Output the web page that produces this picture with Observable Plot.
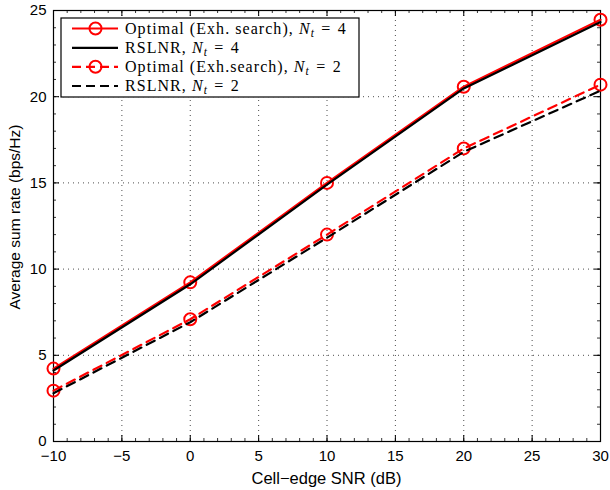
<!DOCTYPE html>
<html>
<head>
<meta charset="utf-8">
<script src="https://cdn.jsdelivr.net/npm/d3@7"></script>
<script src="https://cdn.jsdelivr.net/npm/@observablehq/plot@0.6"></script>
<style>
  html, body { margin: 0; padding: 0; background: #fff; }
  svg { display: block; }
</style>
</head>
<body>
<div id="chart"></div>
<script>
// ---- data ----
const snr = [-10, 0, 10, 20, 30];
const optNt4 = [4.23, 9.23, 15.0, 20.58, 24.46];
const rslnrNt4 = [4.12, 9.12, 14.9, 20.48, 24.33];
const optNt2 = [2.95, 7.09, 12.0, 17.0, 20.7];
const rslnrNt2 = [2.8, 6.92, 11.82, 16.8, 20.35];
const xTicks = [-10, -5, 0, 5, 10, 15, 20, 25, 30];
const yTicks = [0, 5, 10, 15, 20, 25];
const xMinor = d3.range(-10, 31, 1);
const yMinor = d3.range(0, 26, 1);
const xLabel = "Cell−edge SNR (dB)";
const yLabel = "Average sum rate (bps/Hz)";
const legendLabels = [
  ["Optimal (Exh. search), ", "4"],
  ["RSLNR, ", "4"],
  ["Optimal (Exh.search), ", "2"],
  ["RSLNR, ", "2"]
];

const series = [
  {name: "opt4", vals: optNt4, color: "#ff0000", dash: null, marker: true},
  {name: "rs4", vals: rslnrNt4, color: "#000000", dash: null, marker: false},
  {name: "opt2", vals: optNt2, color: "#ff0000", dash: "9,6", marker: true},
  {name: "rs2", vals: rslnrNt2, color: "#000000", dash: "9,6", marker: false}
];

const W = 610, H = 490;
const mL = 53, mR = 10, mT = 10, mB = 49;
const iW = W - mL - mR, iH = H - mT - mB;

const marks = [
  Plot.gridX(xTicks, {stroke: "#000", strokeOpacity: 0.7, strokeDasharray: "1,4"}),
  Plot.gridY(yTicks, {stroke: "#000", strokeOpacity: 0.7, strokeDasharray: "1,4"}),
  // minor ticks
  Plot.tickX(xMinor, {x: d => d, insetTop: iH - 3, stroke: "#000", strokeWidth: 0.8}),
  Plot.tickX(xMinor, {x: d => d, insetBottom: iH - 3, stroke: "#000", strokeWidth: 0.8}),
  Plot.tickY(yMinor, {y: d => d, insetRight: iW - 3, stroke: "#000", strokeWidth: 0.8}),
  Plot.tickY(yMinor, {y: d => d, insetLeft: iW - 3, stroke: "#000", strokeWidth: 0.8}),
  // major ticks
  Plot.tickX(xTicks, {x: d => d, insetTop: iH - 6, stroke: "#000"}),
  Plot.tickX(xTicks, {x: d => d, insetBottom: iH - 6, stroke: "#000"}),
  Plot.tickY(yTicks, {y: d => d, insetRight: iW - 6, stroke: "#000"}),
  Plot.tickY(yTicks, {y: d => d, insetLeft: iW - 6, stroke: "#000"}),
  Plot.frame({stroke: "#000", strokeWidth: 1.2})
];

for (const s of series) {
  const data = snr.map((x, i) => ({x, y: s.vals[i]}));
  marks.push(Plot.line(data, {x: "x", y: "y", stroke: s.color, strokeWidth: 2.2,
    strokeDasharray: s.dash, strokeLinejoin: "round"}));
  if (s.marker) {
    marks.push(Plot.dot(data, {x: "x", y: "y", r: 6, stroke: s.color, strokeWidth: 2, fill: "none"}));
  }
}

const chart = Plot.plot({
  width: W, height: H,
  marginLeft: mL, marginRight: mR, marginTop: mT, marginBottom: mB,
  style: {fontFamily: "'Liberation Sans', Arial, sans-serif", fontSize: "15px", color: "#000", background: "#fff"},
  x: {domain: [-10, 30], ticks: xTicks, tickSize: 0, tickPadding: 9, label: null},
  y: {domain: [0, 25], ticks: yTicks, tickSize: 0, tickPadding: 7, label: null},
  marks
});

document.getElementById("chart").appendChild(chart);

const svg = d3.select(chart);
// axis titles
svg.append("text").attr("x", mL + iW / 2).attr("y", 484)
  .attr("text-anchor", "middle").style("font-family", "'Liberation Sans', Arial, sans-serif")
  .style("font-size", "16.5px").attr("fill", "#000").text(xLabel);
svg.append("text").attr("transform", `translate(19.5,217) rotate(-90)`)
  .attr("text-anchor", "middle").style("font-family", "'Liberation Sans', Arial, sans-serif")
  .style("font-size", "15.5px").attr("fill", "#000").text(yLabel);

// ---- legend inside the plot ----
const lg = svg.append("g").attr("class", "legend").attr("text-anchor", "start");
const bx = 61, by = 18, bw = 298, bh = 79;
lg.append("rect").attr("x", bx).attr("y", by).attr("width", bw).attr("height", bh)
  .attr("fill", "#fff").attr("stroke", "#000").attr("stroke-width", 1.2);
const rowY = [28.5, 47.8, 66.8, 86];
series.forEach((s, i) => {
  const y = rowY[i];
  lg.append("line").attr("x1", 72).attr("x2", 118).attr("y1", y).attr("y2", y)
    .attr("stroke", s.color).attr("stroke-width", 2.2)
    .attr("stroke-dasharray", s.dash ? "9,5" : null);
  if (s.marker) {
    lg.append("circle").attr("cx", 95.5).attr("cy", y).attr("r", 6)
      .attr("fill", "none").attr("stroke", s.color).attr("stroke-width", 2);
  }
  const t = lg.append("text").attr("x", 125).attr("y", y + 5).attr("text-anchor", "start")
    .style("font-family", "'Liberation Serif', 'Times New Roman', serif")
    .style("font-size", "16px").style("letter-spacing", "1.05px").attr("fill", "#000");
  t.append("tspan").text(legendLabels[i][0]);
  t.append("tspan").style("font-style", "italic").text("N");
  t.append("tspan").style("font-style", "italic").style("font-size", "11.5px").attr("dy", 3).text("t");
  t.append("tspan").attr("dy", -3).text("\u2004=\u2004" + legendLabels[i][1]);
});
</script>
</body>
</html>
